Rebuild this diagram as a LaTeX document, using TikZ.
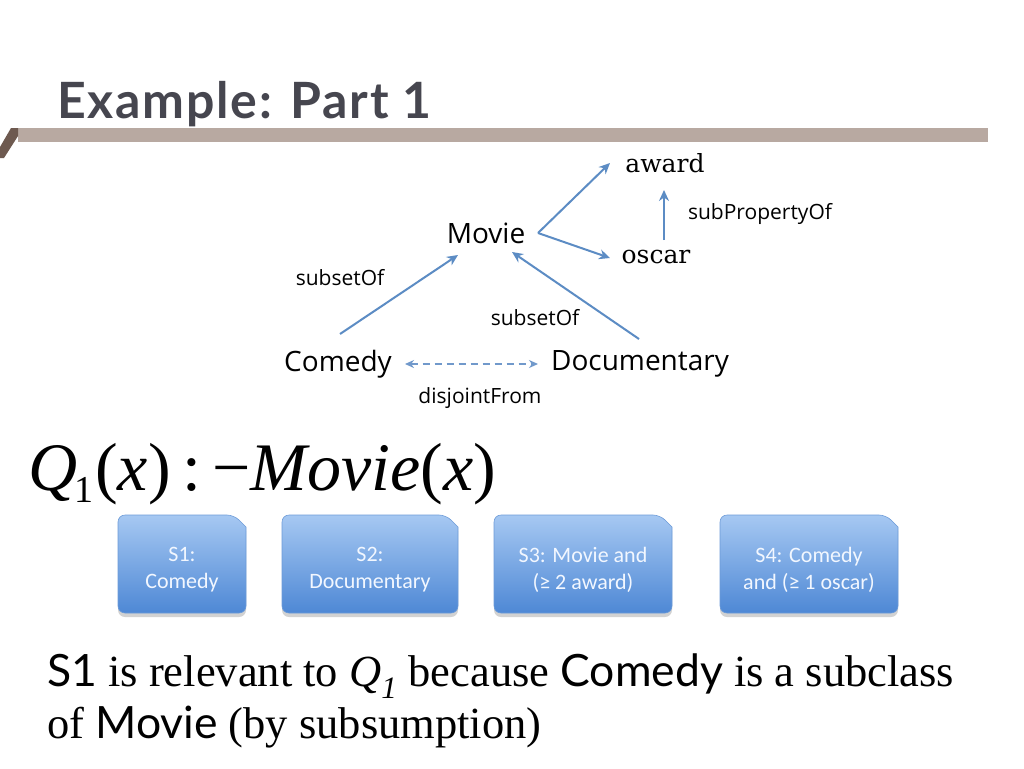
\documentclass[tikz,border=0pt]{standalone}
\usepackage{fontspec}
\setmainfont{Liberation Serif}
\newfontfamily\gill{Lato}
\newfontfamily\comic{Open Sans}
\newfontfamily\propfont{DejaVu Serif}
\usetikzlibrary{arrows.meta,shadows,calc}
\definecolor{titlegray}{HTML}{46464F}
\definecolor{barcol}{HTML}{B8A9A1}
\definecolor{barbrown}{HTML}{6E5A50}
\definecolor{arrowblue}{HTML}{5C8CC4}
\definecolor{dashblue}{HTML}{7199CB}
\definecolor{boxtop}{HTML}{A6C8F2}
\definecolor{boxbot}{HTML}{4E88D5}
\definecolor{boxline}{HTML}{6C9BD8}
\definecolor{boxtextcol}{HTML}{F2F7FF}
\tikzset{
  concept/.style={font=\comic\fontsize{28}{28}\selectfont, inner sep=2pt},
  prop/.style={font=\propfont\fontsize{25}{25}\selectfont, inner sep=2pt},
  elabel/.style={font=\comic\fontsize{21}{21}\selectfont, inner sep=1pt},
  link/.style={draw=arrowblue, line width=2pt, -{Stealth[length=11pt,width=10pt]}},
  dlink/.style={draw=dashblue, line width=2.2pt, dash pattern=on 7pt off 5pt, {Stealth[length=9pt,width=8pt]}-{Stealth[length=9pt,width=8pt]}},
  boxshape/.style={top color=boxtop, bottom color=boxbot, draw=boxline, line width=0.6pt, rounded corners=7pt,
     drop shadow={opacity=0.35, shadow xshift=0pt, shadow yshift=-4pt}},
  boxtext/.style={font=\fontspec{Carlito}\fontsize{22}{27}\selectfont, text=boxtextcol, align=center},
  slidetext/.style={font=\fontsize{44.5}{52}\selectfont, anchor=base west, inner sep=0pt}
}
\newcommand{\snipshape}[4]{% x1 y1 x2 y2
  \path[boxshape] (#1,#4) -- (#1,#2) -- ({#3-12},#2) [sharp corners]-- (#3,{#2+12}) [rounded corners=7pt]-- (#3,#4) -- cycle;
}
\begin{document}
\begin{tikzpicture}[x=1pt,y=-1pt]
\useasboundingbox (0,0) rectangle (1024,768);
\fill[white] (0,0) rectangle (1024,768);
% title
\node[anchor=base west, inner sep=0pt, text=titlegray, font=\gill\bfseries\fontsize{50}{50}\selectfont\addfontfeature{LetterSpace=3.5}] (title) at (57,118) {Example: Part 1};
% bar
\fill[barcol] (18,128) rectangle (988,142);
\fill[barbrown] (11,128) -- (18,128) -- (18,136) -- (4,158) -- (0,158) -- (0,147) -- cycle;
% diagram nodes
\node[prop] (award) at (665,163) {award};
\node[prop] (oscar) at (656,257) {oscar};
\node[concept] (movie) at (486,233) {Movie};
\node[concept] (comedy) at (338,364) {Comedy};
\node[concept] (docu) at (640,364) {Documentary};
\coordinate (mv) at (538,233);
\coordinate (awin) at (610,163);
\coordinate (osin) at (610,258);
\coordinate (ostop) at (664,240);
\coordinate (awbot) at (664,190);
\coordinate (cmtop) at (340,334);
\coordinate (mvl) at (458,255);
\coordinate (dctop) at (639,339);
\coordinate (mvr) at (512,252);
\coordinate (cme) at (405,364);
\coordinate (dcw) at (538,364);
\draw[link] (mv) -- (awin);
\draw[link] (mv) -- (osin);
\draw[link] (ostop) -- (awbot);
\draw[link] (cmtop) -- (mvl);
\draw[link] (dctop) -- (mvr);
\draw[dlink] (cme) -- (dcw);
\node[elabel] (lsp) at (760,214) {subPropertyOf};
\node[elabel] (ls1) at (340,278) {subsetOf};
\node[elabel] (ls2) at (535,318) {subsetOf};
\node[elabel] (ldj) at (480,398) {disjointFrom};
% formula
\node[anchor=base west, inner sep=0pt, font=\fontsize{68}{68}\selectfont] (query) at (28,490)
  {\textit{Q}\kern-3pt\raisebox{-12pt}{\fontsize{38}{38}\selectfont 1}\kern2pt(\textit{x})\,:\,−\textit{Movie}(\textit{x})};
% source boxes
\snipshape{118}{515}{246}{613}
\snipshape{282}{515}{458}{613}
\snipshape{494}{515}{672}{613}
\snipshape{720}{515}{898}{613}
\node[boxtext] (s1) at (182,570) {S1:\\Comedy};
\node[boxtext] (s2) at (370,570) {S2:\\Documentary};
\node[boxtext] (s3) at (583,570) {S3: Movie and\\(≥ 2 award)};
\node[boxtext] (s4) at (809,570) {S4: Comedy\\and (≥ 1 oscar)};
% bottom text
\node[slidetext] (expl1) at (47,686)
  {{\gill S1} is relevant to \textit{Q\textsubscript{1}} because {\gill Comedy} is a subclass};
\node[slidetext] (expl2) at (47,738)
  {of {\gill Movie} (by subsumption)};
\end{tikzpicture}
\end{document}
